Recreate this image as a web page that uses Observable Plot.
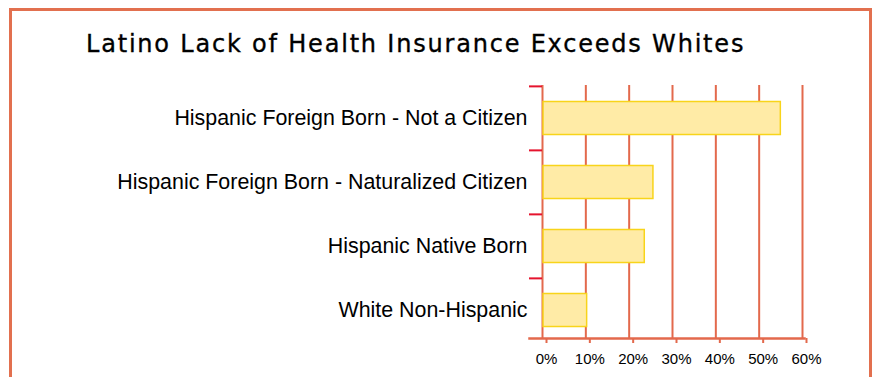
<!DOCTYPE html>
<html>
<head>
<meta charset="utf-8">
<script src="https://cdn.jsdelivr.net/npm/d3@7"></script>
<script src="https://cdn.jsdelivr.net/npm/@observablehq/plot@0.6"></script>
<style>
  body { margin: 0; background: #fff; }
  #wrap { position: relative; width: 872px; height: 377px; overflow: hidden; background: #fff; }
  #border { position: absolute; left: 9px; top: 8px; width: 863px; height: 430px; box-sizing: border-box; border: 3px solid #E2704F; }
  #title { position: absolute; left: 86px; top: 30px; font-family: "DejaVu Sans", Verdana, sans-serif; font-size: 24px; letter-spacing: 1.8px; -webkit-text-stroke: 0.35px #000; color: #000; white-space: nowrap; }
  #chart { position: absolute; left: 0; top: 0; }
</style>
</head>
<body>
<div id="wrap">
  <div id="border"></div>
  <div id="title">Latino Lack of Health Insurance Exceeds Whites</div>
  <div id="chart"></div>
</div>
<script>
const categories = [
  "Hispanic Foreign Born - Not a Citizen",
  "Hispanic Foreign Born - Naturalized Citizen",
  "Hispanic Native Born",
  "White Non-Hispanic"
];
const values = [55.0, 25.6, 23.6, 10.3];
const xTicks = [0, 10, 20, 30, 40, 50, 60];

const data = categories.map((c, i) => ({category: c, value: values[i]}));
const yRange = [85, 342];
const step = (yRange[1] - yRange[0]) / categories.length;

const chart = Plot.plot({
  width: 872,
  height: 377,
  marginLeft: 529,
  marginRight: 68,
  marginTop: 85,
  marginBottom: 39,
  style: {fontFamily: "Arial, 'Liberation Sans', sans-serif", background: "transparent", color: "#000"},
  x: {domain: [0, 60], range: [542, 802]},
  y: {domain: categories, range: yRange, padding: 0},
  marks: [
    Plot.ruleX(xTicks, {stroke: "#E3694C", strokeWidth: 2}),
    Plot.frame({anchor: "bottom", stroke: "#E3694C", strokeWidth: 2.5}),
    Plot.barX(data, {x1: 0, x2: "value", y: "category", fill: "#FFEBA6", stroke: "#F8D41A", strokeWidth: 1.5, insetTop: 15.5, insetBottom: 15.5, insetLeft: 1}),
    Plot.ruleY(categories, {y: d => d, x1: -3, x2: 0, dy: -step / 2, stroke: "#E5142E", strokeWidth: 2}),
    Plot.axisY({tickSize: 0, tickPadding: 2, fontSize: 21.4, label: null}),
    Plot.axisX(xTicks, {tickSize: 5, tickPadding: 10, fontSize: 15, stroke: "#E3694C", strokeWidth: 2, tickFormat: d => d + "%", dx: 4, label: null})
  ]
});
document.getElementById("chart").appendChild(chart);
</script>
</body>
</html>
